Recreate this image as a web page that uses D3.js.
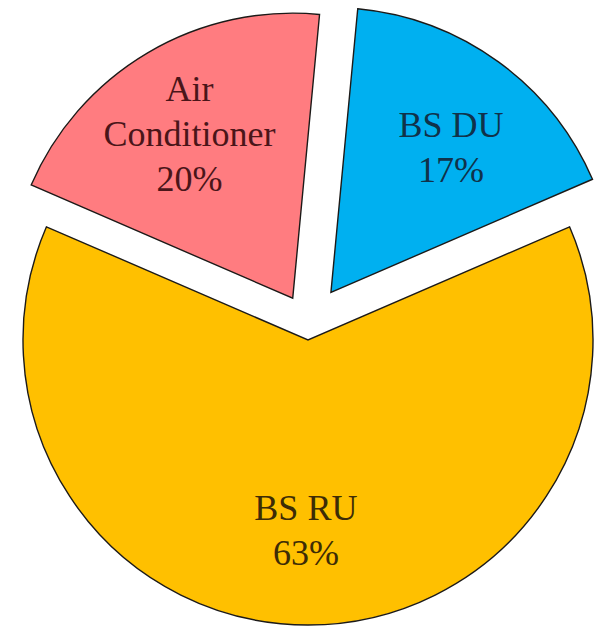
<!DOCTYPE html>
<html>
<head>
<meta charset="utf-8">
<script src="https://cdn.jsdelivr.net/npm/d3@7"></script>
<style>
  html, body { margin: 0; padding: 0; background: #ffffff; }
  svg { display: block; }
</style>
</head>
<body>
<svg id="chart" width="597" height="626"></svg>
<script>
// Share of power consumption by component
const categories = ["BS DU", "BS RU", "Air Conditioner"];
const shares = [17, 63, 20];
const labelLines = [["BS DU"], ["BS RU"], ["Air", "Conditioner"]];

// Styling
const sliceColors = ["#00B0F0", "#FFC000", "#FF7C80"];
const textColors = ["#10324a", "#3d2c06", "#4a1519"];
const explode = [39, 16, 30];            // px each slice is pulled out along its bisector
const labelRadius = [0.63, 0.71, 0.645]; // fraction of radius where the label sits
const labelTurn = [6, 0.6, -3.6];        // small angular nudge of labels, degrees

const width = 597, height = 626;
const cx = 308, cy = 324, R = 285;
const fontSize = 36, lineH = 45;
const deg = Math.PI / 180;
const startA = 5.4 * deg;

const data = categories.map((c, i) => ({ name: c, value: shares[i], i }));

const pie = d3.pie()
  .sort(null)
  .value(d => d.value)
  .startAngle(startA)
  .endAngle(startA + 2 * Math.PI);

const arc = d3.arc().innerRadius(0).outerRadius(R);

const svg = d3.select("#chart");
const g = svg.append("g").attr("transform", `translate(${cx},${cy})`);

const arcs = pie(data);

function apex(d) {
  const b = (d.startAngle + d.endAngle) / 2;
  const e = explode[d.data.i];
  return [e * Math.sin(b), -e * Math.cos(b)];
}

const slice = g.selectAll("g.slice")
  .data(arcs)
  .join("g")
  .attr("class", "slice")
  .attr("transform", d => `translate(${apex(d)})`);

slice.append("path")
  .attr("d", arc)
  .attr("fill", d => sliceColors[d.data.i])
  .attr("stroke", "#1c1a18")
  .attr("stroke-width", 1.4)
  .attr("stroke-linejoin", "miter");

slice.each(function (d) {
  const i = d.data.i;
  const b = (d.startAngle + d.endAngle) / 2 + labelTurn[i] * deg;
  const r = labelRadius[i] * R;
  const lx = r * Math.sin(b), ly = -r * Math.cos(b);
  const lines = labelLines[i].concat([d.data.value + "%"]);
  const n = lines.length;
  const t = d3.select(this).append("text")
    .attr("text-anchor", "middle")
    .attr("font-family", "'Liberation Serif', 'Times New Roman', serif")
    .attr("font-size", fontSize)
    .attr("fill", textColors[i]);
  lines.forEach((s, k) => {
    t.append("tspan")
      .attr("x", lx)
      .attr("y", ly + (k - (n - 1) / 2) * lineH)
      .text(s);
  });
});
</script>
</body>
</html>
